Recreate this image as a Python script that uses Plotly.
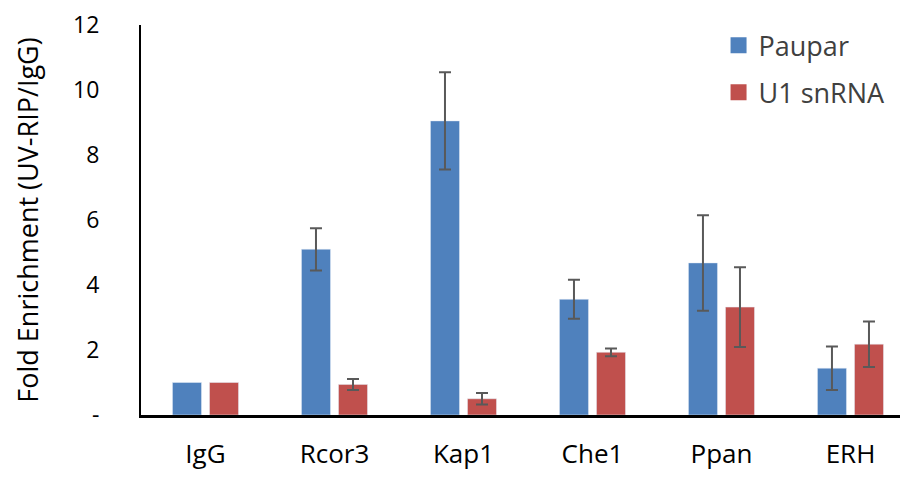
import plotly.graph_objects as go

categories = ["IgG", "Rcor3", "Kap1", "Che1", "Ppan", "ERH"]
paupar = [1.0, 5.1, 9.05, 3.56, 4.68, 1.44]
paupar_err = ["NaN", 0.65, 1.5, 0.6, 1.47, 0.67]   # IgG has no error bar
u1 = [1.0, 0.94, 0.5, 1.93, 3.32, 2.18]
u1_err = ["NaN", 0.17, 0.18, 0.12, 1.23, 0.7]
y_tickvals = [0, 2, 4, 6, 8, 10, 12]
y_ticktext = ["-", "2", "4", "6", "8", "10", "12"]

FONT = "Open Sans, sans-serif"
BLUE = "#4F81BD"
RED = "#C0504D"
err_style = dict(type="data", thickness=2, width=6, color="#595959")

fig = go.Figure()
fig.add_trace(go.Bar(
    x=categories, y=paupar, name="Paupar", marker_color=BLUE,
    error_y=dict(array=paupar_err, visible=True, **err_style),
    showlegend=False,
))
fig.add_trace(go.Bar(
    x=categories, y=u1, name="U1 snRNA", marker_color=RED,
    error_y=dict(array=u1_err, visible=True, **err_style),
    showlegend=False,
))
# legend entries with larger square swatches
for nm, col, grp in [("Paupar", BLUE, "a"), ("U1 snRNA", RED, "b")]:
    fig.add_trace(go.Scatter(
        x=[None], y=[None], mode="markers", name=nm, legendgroup=grp,
        marker=dict(symbol="square", size=17, color=col),
    ))

fig.update_layout(
    width=900, height=471,
    margin=dict(l=133, r=0, t=12, b=64),
    plot_bgcolor="white", paper_bgcolor="white",
    barmode="group", bargap=0.426, bargroupgap=0.216,
    font=dict(family=FONT, size=22, color="#000000"),
    legend=dict(x=0.753, y=1.01, xanchor="left", yanchor="top",
                font=dict(size=27, color="#404040"), tracegroupgap=9,
                bgcolor="rgba(0,0,0,0)", itemsizing="trace"),
    xaxis=dict(range=[-0.5, 5.446], showline=True, linecolor="black", linewidth=3,
               ticks="", ticklabelstandoff=14, tickfont=dict(size=26, color="#000000")),
    yaxis=dict(range=[0, 12], tickvals=y_tickvals, ticktext=y_ticktext,
               showline=True, linecolor="black", linewidth=2, showgrid=False,
               zeroline=False, ticks="", ticklabelstandoff=35, ticklabeloverflow="allow",
               tickfont=dict(size=23, color="#000000"),
               title=dict(text="Fold Enrichment (UV-RIP/IgG)", font=dict(size=27), standoff=27)),
)

fig.write_html("out.html")
